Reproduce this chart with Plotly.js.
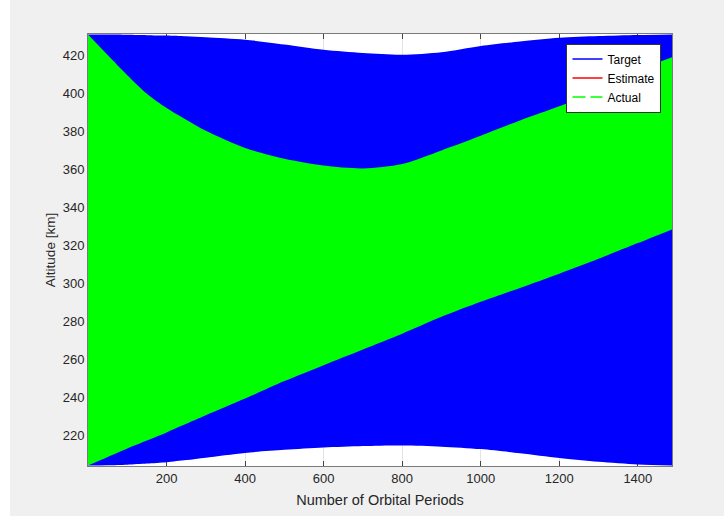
<!DOCTYPE html>
<html>
<head>
<meta charset="utf-8">
<script src="https://cdn.plot.ly/plotly-3.0.1.min.js"></script>
<style>
  html, body { margin: 0; padding: 0; background: #ffffff; }
  #chart { position: absolute; left: 10px; top: 0px; width: 714px; height: 516px; }
</style>
</head>
<body>
<div id="chart"></div>
<script>
// Number of orbital periods at which the envelopes were read
const periods = [0, 50, 100, 150, 200, 250, 300, 400, 500, 600, 700, 800, 900, 1000, 1100, 1200, 1300, 1400, 1487];

// Target altitude envelope [km]
const targetUpper = [431.1, 431.0, 430.9, 430.7, 430.5, 430.1, 429.6, 428.3, 425.8, 423.0, 421.3, 420.4, 421.7, 425.0, 427.4, 429.3, 430.2, 430.8, 431.1];
const targetLower = [204.0, 204.2, 204.5, 205.1, 205.8, 206.9, 208.2, 210.7, 212.3, 213.5, 214.3, 214.6, 214.0, 212.7, 210.5, 208.0, 206.0, 204.6, 204.0];

// Actual altitude envelope [km]
const actualUpper = [431.0, 420.2, 409.6, 399.8, 392.3, 386.1, 380.3, 371.3, 365.6, 362.0, 360.5, 362.8, 370.0, 377.7, 385.8, 393.2, 402.0, 412.0, 419.0];
const actualLower = [204.0, 208.5, 213.0, 217.2, 221.5, 226.0, 230.5, 239.3, 248.5, 256.9, 265.2, 273.5, 282.4, 290.3, 297.6, 305.1, 312.9, 321.2, 328.4];

const xTicks = [200, 400, 600, 800, 1000, 1200, 1400];
const yTicks = [220, 240, 260, 280, 300, 320, 340, 360, 380, 400, 420];

const BLUE = '#0000ff', GREEN = '#00ff00', RED = '#ff0000';

const band = (y, color, fill) => ({
  x: periods, y: y, mode: 'lines', line: { width: 0, color: color, shape: 'spline', smoothing: 0.8 },
  fill: fill ? 'tonexty' : 'none', fillcolor: color, showlegend: false, hoverinfo: 'skip'
});

const traces = [
  band(targetLower, BLUE, false),
  band(targetUpper, BLUE, true),
  band(actualLower, GREEN, false),
  band(actualUpper, GREEN, true),
  // legend entries
  { x: [null], y: [null], mode: 'lines', name: 'Target', line: { color: BLUE, width: 1.5 } },
  { x: [null], y: [null], mode: 'lines', name: 'Estimate', line: { color: RED, width: 1.5 } },
  { x: [null], y: [null], mode: 'lines', name: 'Actual', line: { color: GREEN, width: 1.5, dash: '13px,5px' } }
];

const FONT = 'Liberation Sans, Arial, sans-serif';
const axisCommon = {
  showline: true, linecolor: '#7a7a7a', linewidth: 1, mirror: 'ticks',
  ticks: 'inside', ticklen: 5, tickcolor: '#444444', tickwidth: 1,
  showgrid: true, gridcolor: '#e3e3e3', gridwidth: 1,
  zeroline: false, layer: 'below traces',
  tickfont: { family: FONT, size: 13, color: '#262626' }
};

const layout = {
  width: 714, height: 516,
  margin: { l: 78, r: 52, t: 34, b: 50 },
  paper_bgcolor: '#f0f0f0', plot_bgcolor: '#ffffff',
  xaxis: Object.assign({}, axisCommon, {
    range: [0, 1487], tickvals: xTicks, ticktext: xTicks.map(String),
    title: { text: 'Number of Orbital Periods', standoff: 10,
      font: { family: FONT, size: 14.5, color: '#262626' } }
  }),
  yaxis: Object.assign({}, axisCommon, {
    range: [203.8, 431.3], tickvals: yTicks, ticktext: yTicks.map(String),
    title: { text: 'Altitude [km]', standoff: 3,
      font: { family: FONT, size: 13.5, color: '#262626' } }
  }),
  legend: {
    x: 0.982, y: 0.978, xanchor: 'right', yanchor: 'top',
    traceorder: 'normal',
    bgcolor: '#ffffff', bordercolor: '#333333', borderwidth: 1,
    font: { family: FONT, size: 12, color: '#000000' },
    tracegroupgap: 0
  },
  showlegend: true
};

Plotly.newPlot('chart', traces, layout, { displayModeBar: false, staticPlot: true });
</script>
</body>
</html>
